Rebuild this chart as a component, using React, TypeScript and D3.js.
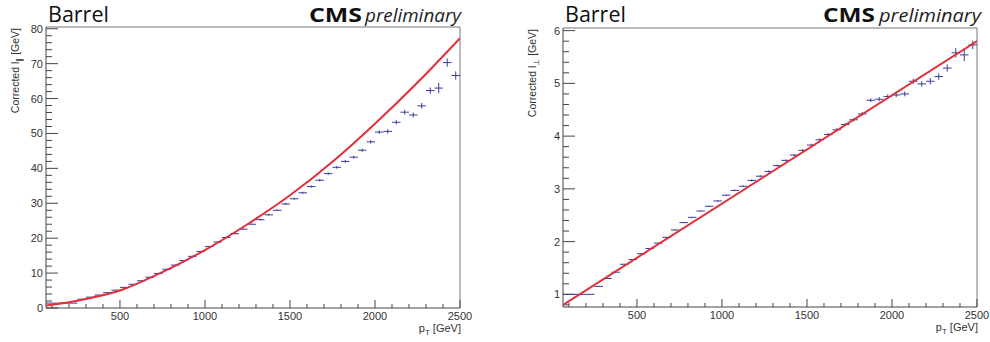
import React from "react";
import * as d3 from "d3";

// ---------- data ----------
const binEdges = [65, 250, 300, 350, 400, 450, 500, 550, 600, 650, 700, 750, 800, 850, 900, 950, 1000, 1050, 1100, 1150, 1200, 1250, 1300, 1350, 1400, 1450, 1500, 1550, 1600, 1650, 1700, 1750, 1800, 1850, 1900, 1950, 2000, 2050, 2100, 2150, 2200, 2250, 2300, 2350, 2400, 2450, 2500];

const leftValues = [1.4, 2.5, 3.1, 3.7, 4.4, 5.1, 5.9, 6.8, 7.8, 8.8, 9.9, 11.1, 12.3, 13.6, 14.8, 16.2, 17.6, 18.9, 20.2, 21.3, 22.6, 24.0, 25.3, 26.7, 28.0, 29.8, 31.3, 33.0, 34.8, 36.6, 38.5, 40.3, 42.0, 43.2, 45.2, 47.6, 50.4, 50.6, 53.2, 56.1, 55.3, 57.9, 62.3, 63.0, 70.3, 66.6];
const leftErrors = [0.3, 0.1, 0.1, 0.1, 0.1, 0.1, 0.1, 0.1, 0.1, 0.1, 0.1, 0.1, 0.1, 0.15, 0.15, 0.15, 0.15, 0.2, 0.2, 0.2, 0.2, 0.2, 0.25, 0.25, 0.25, 0.3, 0.3, 0.3, 0.3, 0.35, 0.35, 0.4, 0.4, 0.4, 0.45, 0.5, 0.5, 0.6, 0.6, 0.7, 0.7, 0.8, 0.9, 1.5, 1.2, 1.2];

const rightValues = [1.0, 1.15, 1.3, 1.42, 1.57, 1.66, 1.77, 1.87, 1.97, 2.08, 2.22, 2.36, 2.46, 2.58, 2.67, 2.77, 2.88, 2.97, 3.05, 3.16, 3.24, 3.33, 3.44, 3.54, 3.64, 3.73, 3.83, 3.93, 4.03, 4.12, 4.22, 4.31, 4.42, 4.68, 4.7, 4.75, 4.78, 4.8, 5.04, 4.99, 5.04, 5.13, 5.29, 5.58, 5.54, 5.73];
const rightErrors = [0.01, 0.01, 0.01, 0.01, 0.01, 0.01, 0.01, 0.01, 0.01, 0.01, 0.01, 0.01, 0.01, 0.01, 0.01, 0.015, 0.015, 0.015, 0.015, 0.02, 0.02, 0.02, 0.02, 0.02, 0.02, 0.025, 0.025, 0.025, 0.03, 0.03, 0.03, 0.03, 0.035, 0.035, 0.04, 0.04, 0.04, 0.045, 0.05, 0.05, 0.06, 0.06, 0.07, 0.09, 0.12, 0.08];

const leftFitX = [65, 250, 500, 750, 1000, 1250, 1500, 1750, 2000, 2250, 2500];
const leftFitY = [0.7, 2.1, 5.0, 10.3, 16.6, 24.0, 32.3, 41.9, 52.8, 64.6, 77.3];
const rightFitX = [65, 2500];
const rightFitY = [0.8, 5.8];

const xMajorTicks = [500, 1000, 1500, 2000, 2500];
const leftYMajorTicks = [0, 10, 20, 30, 40, 50, 60, 70, 80];
const rightYMajorTicks = [1, 2, 3, 4, 5, 6];

const FONT = "'Liberation Sans', Arial, Helvetica, sans-serif";
const TITLE_FONT = "'Open Sans', 'DejaVu Sans', sans-serif";
const BLUE = "#3a3c9c";
const RED = "#e0303a";

interface PanelProps {
  id: string;
  x0: number; x1: number; yTop: number; yBot: number;
  yDomain: [number, number];
  values: number[]; errors: number[];
  fitX: number[]; fitY: number[]; curved: boolean;
  yMajor: number[]; yMinorStep: number;
  ySub: string;
  cmsX: [number, number]; prelimX: [number, number];
}

function Panel(p: PanelProps) {
  const x = d3.scaleLinear().domain([65, 2500]).range([p.x0, p.x1]);
  const y = d3.scaleLinear().domain(p.yDomain).range([p.yBot, p.yTop]);

  const xMinor = d3.range(100, 2501, 100).filter((v) => !xMajorTicks.includes(v));
  const yMinor: number[] = [];
  const nMin = Math.ceil(p.yDomain[0] / p.yMinorStep - 1e-6);
  const nMax = Math.floor(p.yDomain[1] / p.yMinorStep + 1e-6);
  for (let i = nMin; i <= nMax; i++) {
    const v = +(i * p.yMinorStep).toFixed(4);
    if (!p.yMajor.some((m) => Math.abs(m - v) < 1e-6)) yMinor.push(v);
  }

  const line = d3
    .line<number>()
    .x((_, i) => x(p.fitX[i]))
    .y((d) => y(d))
    .curve(p.curved ? d3.curveMonotoneX : d3.curveLinear);

  const axisColor = "#444";
  const clipId = "clip-" + p.id;

  return (
    <g>
      <defs>
        <clipPath id={clipId}>
          <rect x={p.x0} y={p.yTop} width={p.x1 - p.x0} height={p.yBot - p.yTop} />
        </clipPath>
      </defs>
      {/* frame */}
      <line x1={p.x0} x2={p.x1} y1={p.yTop} y2={p.yTop} stroke="#777" strokeWidth={1} />
      <line x1={p.x1} x2={p.x1} y1={p.yTop} y2={p.yBot} stroke="#777" strokeWidth={1} />
      <line x1={p.x0} x2={p.x1} y1={p.yBot} y2={p.yBot} stroke={axisColor} strokeWidth={1} />
      <line x1={p.x0} x2={p.x0} y1={p.yTop} y2={p.yBot} stroke={axisColor} strokeWidth={1} />

      {/* x ticks */}
      {xMajorTicks.map((t) => (
        <g key={"xm" + t}>
          <line x1={x(t)} x2={x(t)} y1={p.yBot} y2={p.yBot - 8} stroke={axisColor} />
          <text x={x(t)} y={p.yBot + 12} fontSize={11} fontFamily={FONT} fill="#333" textAnchor="middle">{t}</text>
        </g>
      ))}
      {xMinor.map((t) => (
        <line key={"xn" + t} x1={x(t)} x2={x(t)} y1={p.yBot} y2={p.yBot - 4} stroke={axisColor} />
      ))}

      {/* y ticks */}
      {p.yMajor.map((t) => (
        <g key={"ym" + t}>
          <line x1={p.x0} x2={p.x0 + 12} y1={y(t)} y2={y(t)} stroke={axisColor} />
          <text x={p.x0 - 3} y={y(t) + 4} fontSize={11} fontFamily={FONT} fill="#333" textAnchor="end">{t}</text>
        </g>
      ))}
      {yMinor.map((t) => (
        <line key={"yn" + t} x1={p.x0} x2={p.x0 + 6} y1={y(t)} y2={y(t)} stroke={axisColor} />
      ))}

      {/* data points */}
      <g clipPath={`url(#${clipId})`} stroke={BLUE} strokeWidth={1}>
        {p.values.map((v, i) => {
          const lo = binEdges[i];
          const hi = binEdges[i + 1];
          const c = (lo + hi) / 2;
          return (
            <g key={"pt" + i}>
              <line x1={x(lo)} x2={x(hi)} y1={y(v)} y2={y(v)} />
              <line x1={x(c)} x2={x(c)} y1={y(v - p.errors[i])} y2={y(v + p.errors[i])} />
            </g>
          );
        })}
      </g>

      {/* fit line */}
      <path d={line(p.fitY) || ""} fill="none" stroke={RED} strokeWidth={2} clipPath={`url(#${clipId})`} />

      {/* axis titles */}
      <text x={p.x1 + 1} y={p.yBot + 24} fontSize={11} fontFamily={FONT} fill="#333" textAnchor="end">
        p<tspan fontSize={8} dy={3}>T</tspan>
        <tspan dy={-3}> [GeV]</tspan>
      </text>
      <text
        transform={`translate(${p.x0 - 27},${p.yTop + 1}) rotate(-90)`}
        fontSize={10.5}
        fontFamily={FONT}
        fill="#333"
        textAnchor="end"
      >
        Corrected l<tspan fontSize={7.5} dy={3}>{p.ySub}</tspan>
        <tspan dy={-3}> [GeV]</tspan>
      </text>

      {/* labels */}
      <text x={p.x0 + 2} y={22} fontSize={21.5} fontFamily={TITLE_FONT} fill="#111">Barrel</text>
      <text
        x={p.cmsX[0]}
        y={22}
        fontSize={20}
        fontWeight="bold"
        fontFamily={TITLE_FONT}
        fill="#111"
        textLength={p.cmsX[1] - p.cmsX[0]}
        lengthAdjust="spacingAndGlyphs"
      >
        CMS
      </text>
      <text
        x={p.prelimX[0]}
        y={22}
        fontSize={18.5}
        fontStyle="italic"
        fontFamily={TITLE_FONT}
        fill="#222"
        textLength={p.prelimX[1] - p.prelimX[0]}
        lengthAdjust="spacingAndGlyphs"
      >
        preliminary
      </text>
    </g>
  );
}

export default function App() {
  return (
    <svg
      width={990}
      height={342}
      style={{ position: "absolute", left: 0, top: 0, background: "#fff" }}
    >
      <rect width={990} height={342} fill="#fff" />
      <Panel
        id="l"
        x0={46} x1={460} yTop={27} yBot={308}
        yDomain={[0, 80.5]}
        values={leftValues} errors={leftErrors}
        fitX={leftFitX} fitY={leftFitY} curved={true}
        yMajor={leftYMajorTicks} yMinorStep={2}
        ySub="∥"
        cmsX={[309, 362]} prelimX={[365, 461]}
      />
      <Panel
        id="r"
        x0={563} x1={977} yTop={28} yBot={307}
        yDomain={[0.76, 6.05]}
        values={rightValues} errors={rightErrors}
        fitX={rightFitX} fitY={rightFitY} curved={false}
        yMajor={rightYMajorTicks} yMinorStep={0.2}
        ySub="⊥"
        cmsX={[823, 875]} prelimX={[879, 981]}
      />
    </svg>
  );
}
